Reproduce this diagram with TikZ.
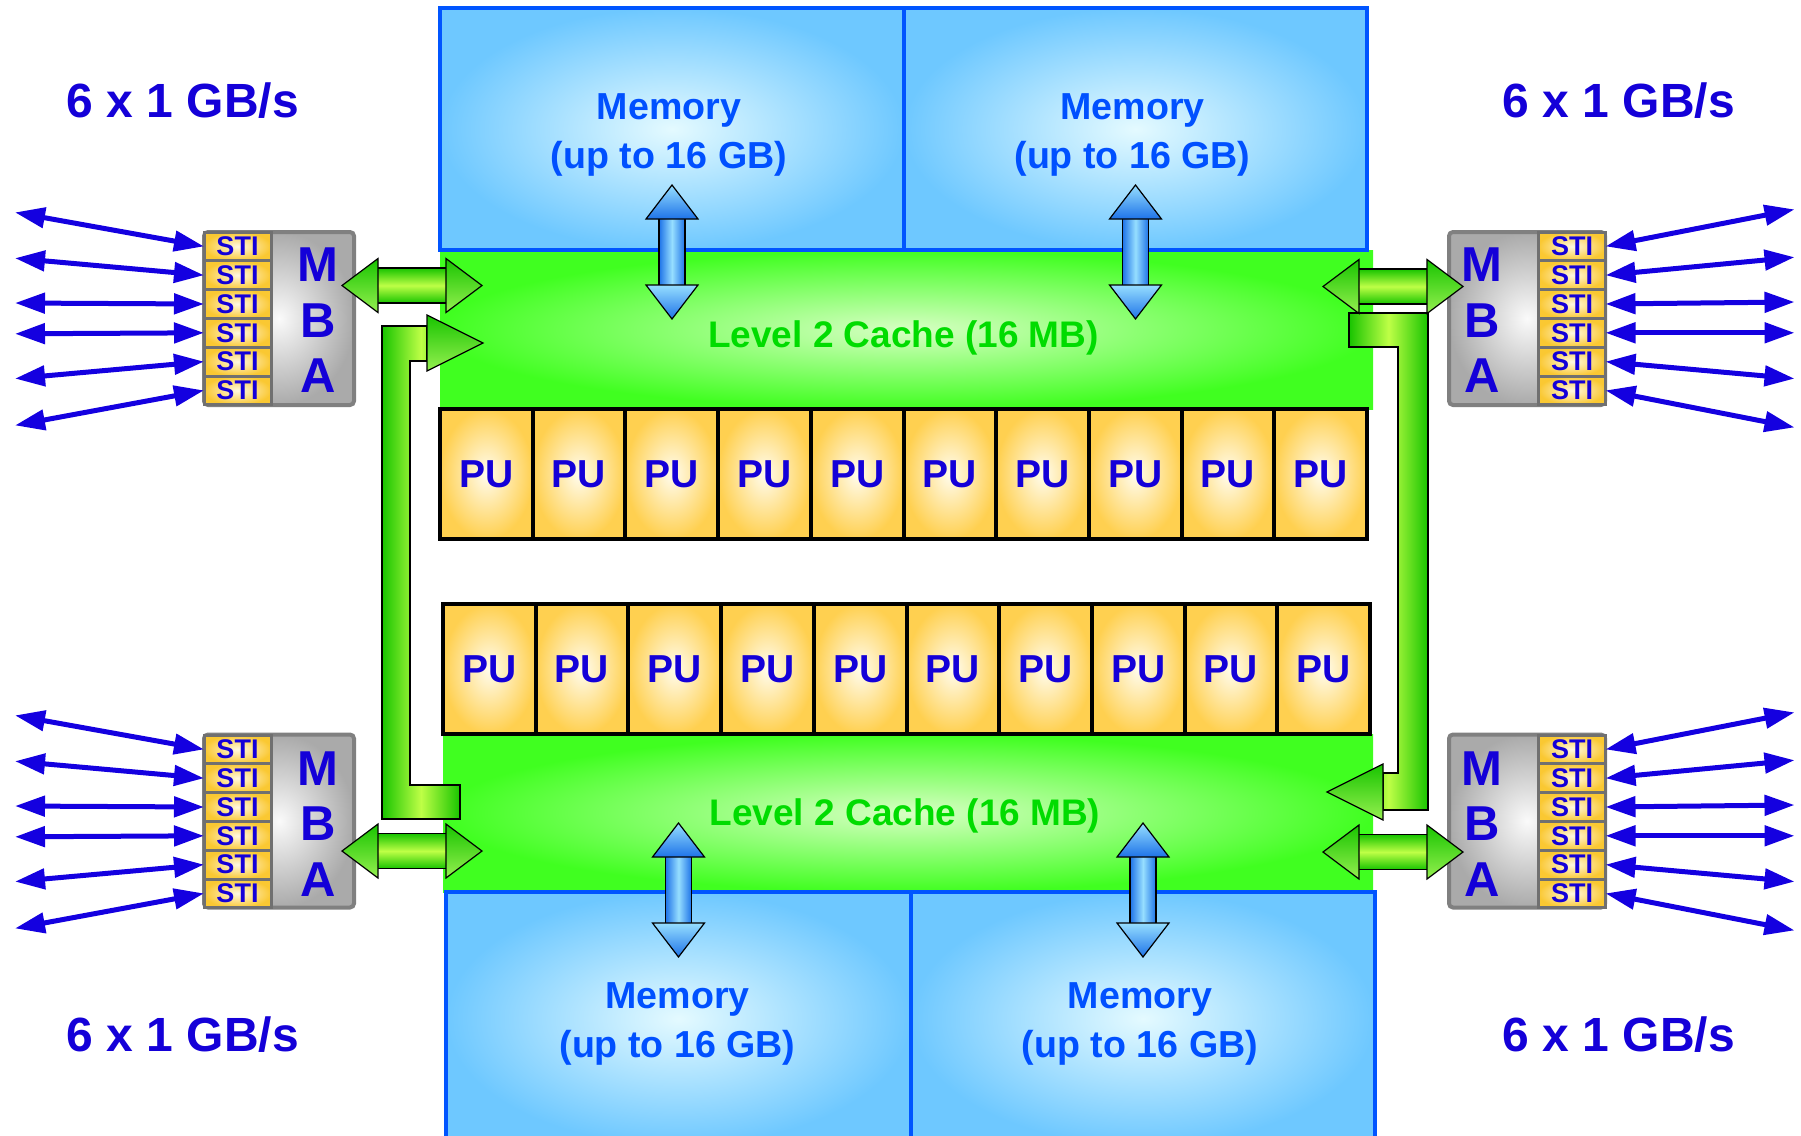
\documentclass[tikz,border=0pt]{standalone}
\usepackage{fontspec}
\setmainfont{Liberation Sans}
\usetikzlibrary{positioning,arrows.meta,calc}

\definecolor{ibmblue}{RGB}{20,0,216}
\definecolor{linkblue}{RGB}{20,0,224}
\definecolor{memtext}{RGB}{0,80,255}
\definecolor{memedge}{RGB}{0,85,255}
\definecolor{memout}{RGB}{110,200,255}
\definecolor{memin}{RGB}{228,250,255}
\definecolor{cachegreen}{RGB}{64,255,32}
\definecolor{cachein}{RGB}{215,255,195}
\definecolor{cachetext}{RGB}{0,220,0}
\definecolor{puout}{RGB}{255,208,80}
\definecolor{puin}{RGB}{255,252,238}
\definecolor{mbaout}{RGB}{170,170,170}
\definecolor{mbain}{RGB}{250,250,250}
\definecolor{mbaedge}{RGB}{128,128,128}
\definecolor{stiout}{RGB}{250,200,50}
\definecolor{stiin}{RGB}{255,248,225}
\definecolor{stiedge}{RGB}{112,112,112}
\definecolor{grdark}{RGB}{24,196,0}
\definecolor{grlight}{RGB}{190,255,70}
\definecolor{grhead}{RGB}{150,240,80}
\definecolor{bldark}{RGB}{30,115,232}
\definecolor{bllight}{RGB}{150,222,255}

\tikzset{
  memarrow/.pic={
    \path[draw=black,line width=0.6pt,left color=bldark,right color=bldark,middle color=bllight] (-13,-34) rectangle (13,34);
    \path[draw=black,line width=0.6pt,top color=bllight,bottom color=bldark] (0,-67) -- (26,-33) -- (-26,-33) -- cycle;
    \path[draw=black,line width=0.6pt,top color=bllight,bottom color=bldark] (0,67) -- (26,33) -- (-26,33) -- cycle;
  },
  busarrow/.pic={
    \path[draw=black,line width=0.6pt,top color=grdark,bottom color=grdark,middle color=grlight] (-35,-17.5) rectangle (35,17.5);
    \path[draw=black,line width=0.6pt,top color=grdark,bottom color=grhead] (-70,0) -- (-34,-27) -- (-34,27) -- cycle;
    \path[draw=black,line width=0.6pt,top color=grdark,bottom color=grhead] (70,0) -- (34,-27) -- (34,27) -- cycle;
  }
}

\begin{document}
\begin{tikzpicture}[x=0.5pt,y=-0.5pt]
  \tikzstyle{mem}=[draw=memedge,line width=2pt,inner color=memin,outer color=memout,minimum width=232pt,minimum height=121pt]
  \tikzstyle{memlbl}=[align=center,text=memtext,font=\fontsize{18.8}{24.5}\selectfont\bfseries]
  \tikzstyle{cache}=[inner color=cachein,outer color=cachegreen,minimum width=466.5pt,minimum height=79.5pt]
  \tikzstyle{cachelbl}=[text=cachetext,font=\fontsize{18.5}{20}\selectfont\bfseries]
  \tikzstyle{pu}=[draw=black,line width=2pt,inner color=puin,outer color=puout,minimum width=46.35pt,minimum height=65pt,inner sep=0pt,outer sep=0pt,text=ibmblue,font=\fontsize{19.5}{20}\selectfont\bfseries]
  \tikzstyle{mba}=[draw=mbaedge,line width=2pt,rounded corners=2pt,inner color=mbain,outer color=mbaout,minimum width=75pt,minimum height=86.5pt]
  \tikzstyle{mbalbl}=[align=center,text=ibmblue,font=\fontsize{24.5}{27.75}\selectfont\bfseries]
  \tikzstyle{sti}=[draw=stiedge,line width=1.5pt,inner color=stiin,outer color=stiout,minimum width=33.5pt,minimum height=14.4pt,inner sep=0pt,outer sep=0pt,text=ibmblue,font=\fontsize{13.5}{13.5}\selectfont\bfseries]
  \tikzstyle{link}=[{Triangle[length=15pt,width=10pt]}-{Triangle[length=15pt,width=10pt]},line width=2.5pt,draw=linkblue]
  \tikzstyle{rate}=[text=ibmblue,font=\fontsize{24}{24}\selectfont\bfseries]
  \tikzstyle{gbody}=[draw=black,line width=0.6pt,left color=grdark,right color=grdark,middle color=grlight]
  \tikzstyle{ghead}=[draw=black,line width=0.6pt,top color=grdark,bottom color=grhead]

  \useasboundingbox (0,0) rectangle (1801,1136);

  % level 2 caches
  \node[cache] (cacheT) at (906.5,329.5) {};
  \node[cache,minimum width=465pt,minimum height=79pt] (cacheB) at (908,813) {};
  \node[cachelbl] at ($(cacheT.center)+(-3,8)$) {Level 2 Cache (16 MB)};
  \node[cachelbl] at ($(cacheB.center)+(-3,3)$) {Level 2 Cache (16 MB)};

  % memory
  \node[mem] (memTL) at (672,129) {};
  \node[mem,minimum width=231.5pt] (memTR) at (1135.5,129) {};
  \node[mem,minimum width=232.5pt,minimum height=126.5pt] (memBL) at (678.5,1018.5) {};
  \node[mem,minimum height=126.5pt] (memBR) at (1143,1018.5) {};
  \node[memlbl] at ($(memTL.center)+(-3,6)$) {Memory\\(up to 16 GB)};
  \node[memlbl] at ($(memTR.center)+(-3,6)$) {Memory\\(up to 16 GB)};
  \node[memlbl] at ($(memBL.center)+(-1,5)$) {Memory\\(up to 16 GB)};
  \node[memlbl] at ($(memBR.center)+(-3,5)$) {Memory\\(up to 16 GB)};

  % two rows of PUs
  \node[pu] (pa0) at (486.35,474) {PU};
  \node[pu] (pb0) at (489.35,669) {PU};
  \foreach \i [count=\j from 0] in {1,...,9} {
    \node[pu,right=0pt of pa\j] (pa\i) {PU};
    \node[pu,right=0pt of pb\j] (pb\i) {PU};
  }

  % cache to cache
  \path[gbody] (460,785) -- (410,785) -- (410,361) -- (427,361) -- (427,326) -- (382,326) -- (382,819) -- (460,819) -- cycle;
  \path[ghead] (427,315) -- (483,343) -- (427,371) -- cycle;
  \path[gbody] (1349,313) -- (1428,313) -- (1428,810) -- (1383,810) -- (1383,773) -- (1398,773) -- (1398,347) -- (1349,347) -- cycle;
  \path[ghead] (1383,764) -- (1327,792) -- (1383,820) -- cycle;

  % MBA chips
  \node[mba] (mbaTL) at (279,318.5) {};
  \node[mba] (mbaBL) at (279,821) {};
  \node[mba,minimum width=78pt] (mbaTR) at (1527,318.5) {};
  \node[mba,minimum width=78pt] (mbaBR) at (1527,821) {};
  \node[mbalbl] at ($(mbaTL.center)+(39,2)$) {M\\B\\A};
  \node[mbalbl] at ($(mbaBL.center)+(39,3)$) {M\\B\\A};
  \node[mbalbl] at ($(mbaTR.center)+(-45,2)$) {M\\B\\A};
  \node[mbalbl] at ($(mbaBR.center)+(-45,3)$) {M\\B\\A};
  \foreach \m/\x/\y in {TL/237.5/246.4,BL/237.5/749.4,TR/1572/246.4,BR/1572/749.4} {
    \node[sti] (sti\m1) at (\x,\y) {\raisebox{-1.5pt}{STI}};
    \foreach \k [count=\p] in {2,...,6}
      \node[sti,below=0pt of sti\m\p] (sti\m\k) {\raisebox{-1.5pt}{STI}};
  }

  % MBA to cache
  \pic at ($(mbaTL.east)+(56,-33)$) {busarrow};
  \pic at ($(mbaBL.east)+(56,30)$) {busarrow};
  \pic at ($(mbaTR.west)+(-54,-32)$) {busarrow};
  \pic at ($(mbaBR.west)+(-54,31)$) {busarrow};

  % memory to cache
  \pic at (memTL.south) {memarrow};
  \pic at (memTR.south) {memarrow};
  \pic at (memBL.north) {memarrow};
  \pic at (memBR.north) {memarrow};

  % STI links
  \foreach \m in {TL,BL}
    \foreach \k/\dy in {1/-34,2/-17,3/-1,4/1,5/17,6/35} {
      \coordinate (far\m\k) at ($(sti\m\k.west)+(-189,\dy)$);
      \draw[link] (far\m\k) -- (sti\m\k.west);
    }
  \foreach \m in {TR,BR}
    \foreach \k/\dy in {1/-37,2/-18,3/-2,4/0,5/17,6/37} {
      \coordinate (far\m\k) at ($(sti\m\k.east)+(189,\dy)$);
      \draw[link] (sti\m\k.east) -- (far\m\k);
    }

  \node[rate] at (183,101) {6 x 1 GB/s};
  \node[rate] at (1619,101) {6 x 1 GB/s};
  \node[rate] at (183,1035) {6 x 1 GB/s};
  \node[rate] at (1619,1035) {6 x 1 GB/s};
\end{tikzpicture}
\end{document}
